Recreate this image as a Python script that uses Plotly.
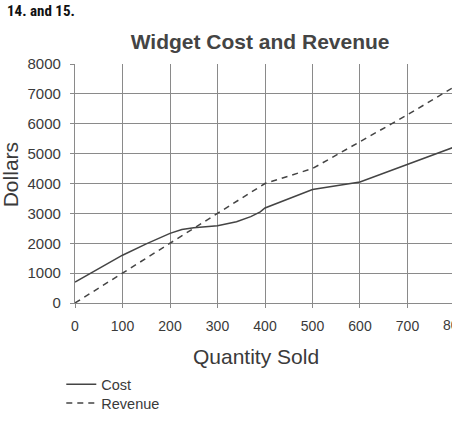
import plotly.graph_objects as go

quantity_cost = [0, 100, 150, 200, 225, 250, 300, 340, 370, 390, 400, 500, 600, 700, 800]
cost = [700, 1600, 1980, 2330, 2460, 2520, 2585, 2720, 2890, 3050, 3180, 3800, 4050, 4650, 5230]

quantity_rev = [0, 100, 200, 300, 400, 500, 600, 700, 800]
revenue = [0, 1000, 2000, 3000, 4000, 4500, 5400, 6300, 7250]

x_ticks = [0, 100, 200, 300, 400, 500, 600, 700, 800]
y_ticks = [0, 1000, 2000, 3000, 4000, 5000, 6000, 7000, 8000]

LINE = "#444444"
GRID = "#8a8a8a"
TEXT = "#3a3a3a"
FONT = "Liberation Sans, Arial, sans-serif"

fig = go.Figure()
fig.add_trace(go.Scatter(x=quantity_cost, y=cost, mode="lines", name="Cost",
                         line=dict(color=LINE, width=1.5), legend="legend"))
fig.add_trace(go.Scatter(x=quantity_rev, y=revenue, mode="lines", name="Revenue",
                         line=dict(color=LINE, width=1.5, dash="6px,5px"), legend="legend2"))

legend_common = dict(xref="container", yref="container", x=0.1356,
                     xanchor="left", yanchor="top", font=dict(size=14.5, color=TEXT),
                     itemwidth=30, bgcolor="rgba(0,0,0,0)")

fig.update_layout(
    width=452, height=421,
    margin=dict(l=75, r=0, t=64, b=118, autoexpand=False),
    paper_bgcolor="white", plot_bgcolor="white",
    font=dict(family=FONT, color=TEXT, size=14),
    title=dict(text="<b>Widget Cost and Revenue</b>", x=0.491, xref="paper", xanchor="center",
               y=0.901, yref="container", yanchor="middle",
               font=dict(size=21, color="#444444")),
    showlegend=True,
    legend=dict(y=0.125, **legend_common),
    legend2=dict(y=0.0805, **legend_common),
    annotations=[
        dict(text="<b>14. and 15.</b>", xref="paper", yref="paper",
             x=-0.186, y=1.2197, xanchor="left", yanchor="middle", showarrow=False,
             font=dict(family="Liberation Sans Narrow, Roboto Condensed, DejaVu Sans Condensed",
                       size=15, color="#111111")),
        dict(text="800", xref="paper", yref="paper", x=1.007, y=0, yshift=-22,
             xanchor="center", yanchor="middle", showarrow=False,
             font=dict(size=14, color=TEXT)),
        dict(text="Quantity Sold", xref="paper", yref="paper", x=0.479, y=-0.2247,
             xanchor="center", yanchor="middle", showarrow=False,
             font=dict(size=21, color=TEXT)),
        dict(text="Dollars", xref="paper", yref="paper", x=-0.172, y=0.535,
             xanchor="center", yanchor="middle", showarrow=False, textangle=-90,
             font=dict(size=21, color=TEXT)),
    ],
)

fig.update_xaxes(range=[0, 793.7], tickvals=x_ticks, showgrid=True, gridcolor=GRID, gridwidth=1.3,
                 showline=True, linecolor=GRID, linewidth=1.3, zeroline=False,
                 ticks="outside", ticklen=4, tickcolor=GRID, tickwidth=1.3,
                 ticklabelstandoff=6, automargin=False,
                 tickfont=dict(size=14, color=TEXT))
fig.update_yaxes(range=[0, 8000], tickvals=y_ticks, showgrid=True, gridcolor=GRID, gridwidth=1.3,
                 showline=True, linecolor=GRID, linewidth=1.3, zeroline=False,
                 ticks="outside", ticklen=4, tickcolor=GRID, tickwidth=1.3,
                 ticklabelstandoff=6, automargin=False,
                 tickfont=dict(size=15, color=TEXT))

fig.write_html("out.html", config={"displayModeBar": False},
               post_script="document.body.style.margin='0';document.body.style.overflow='hidden';")
